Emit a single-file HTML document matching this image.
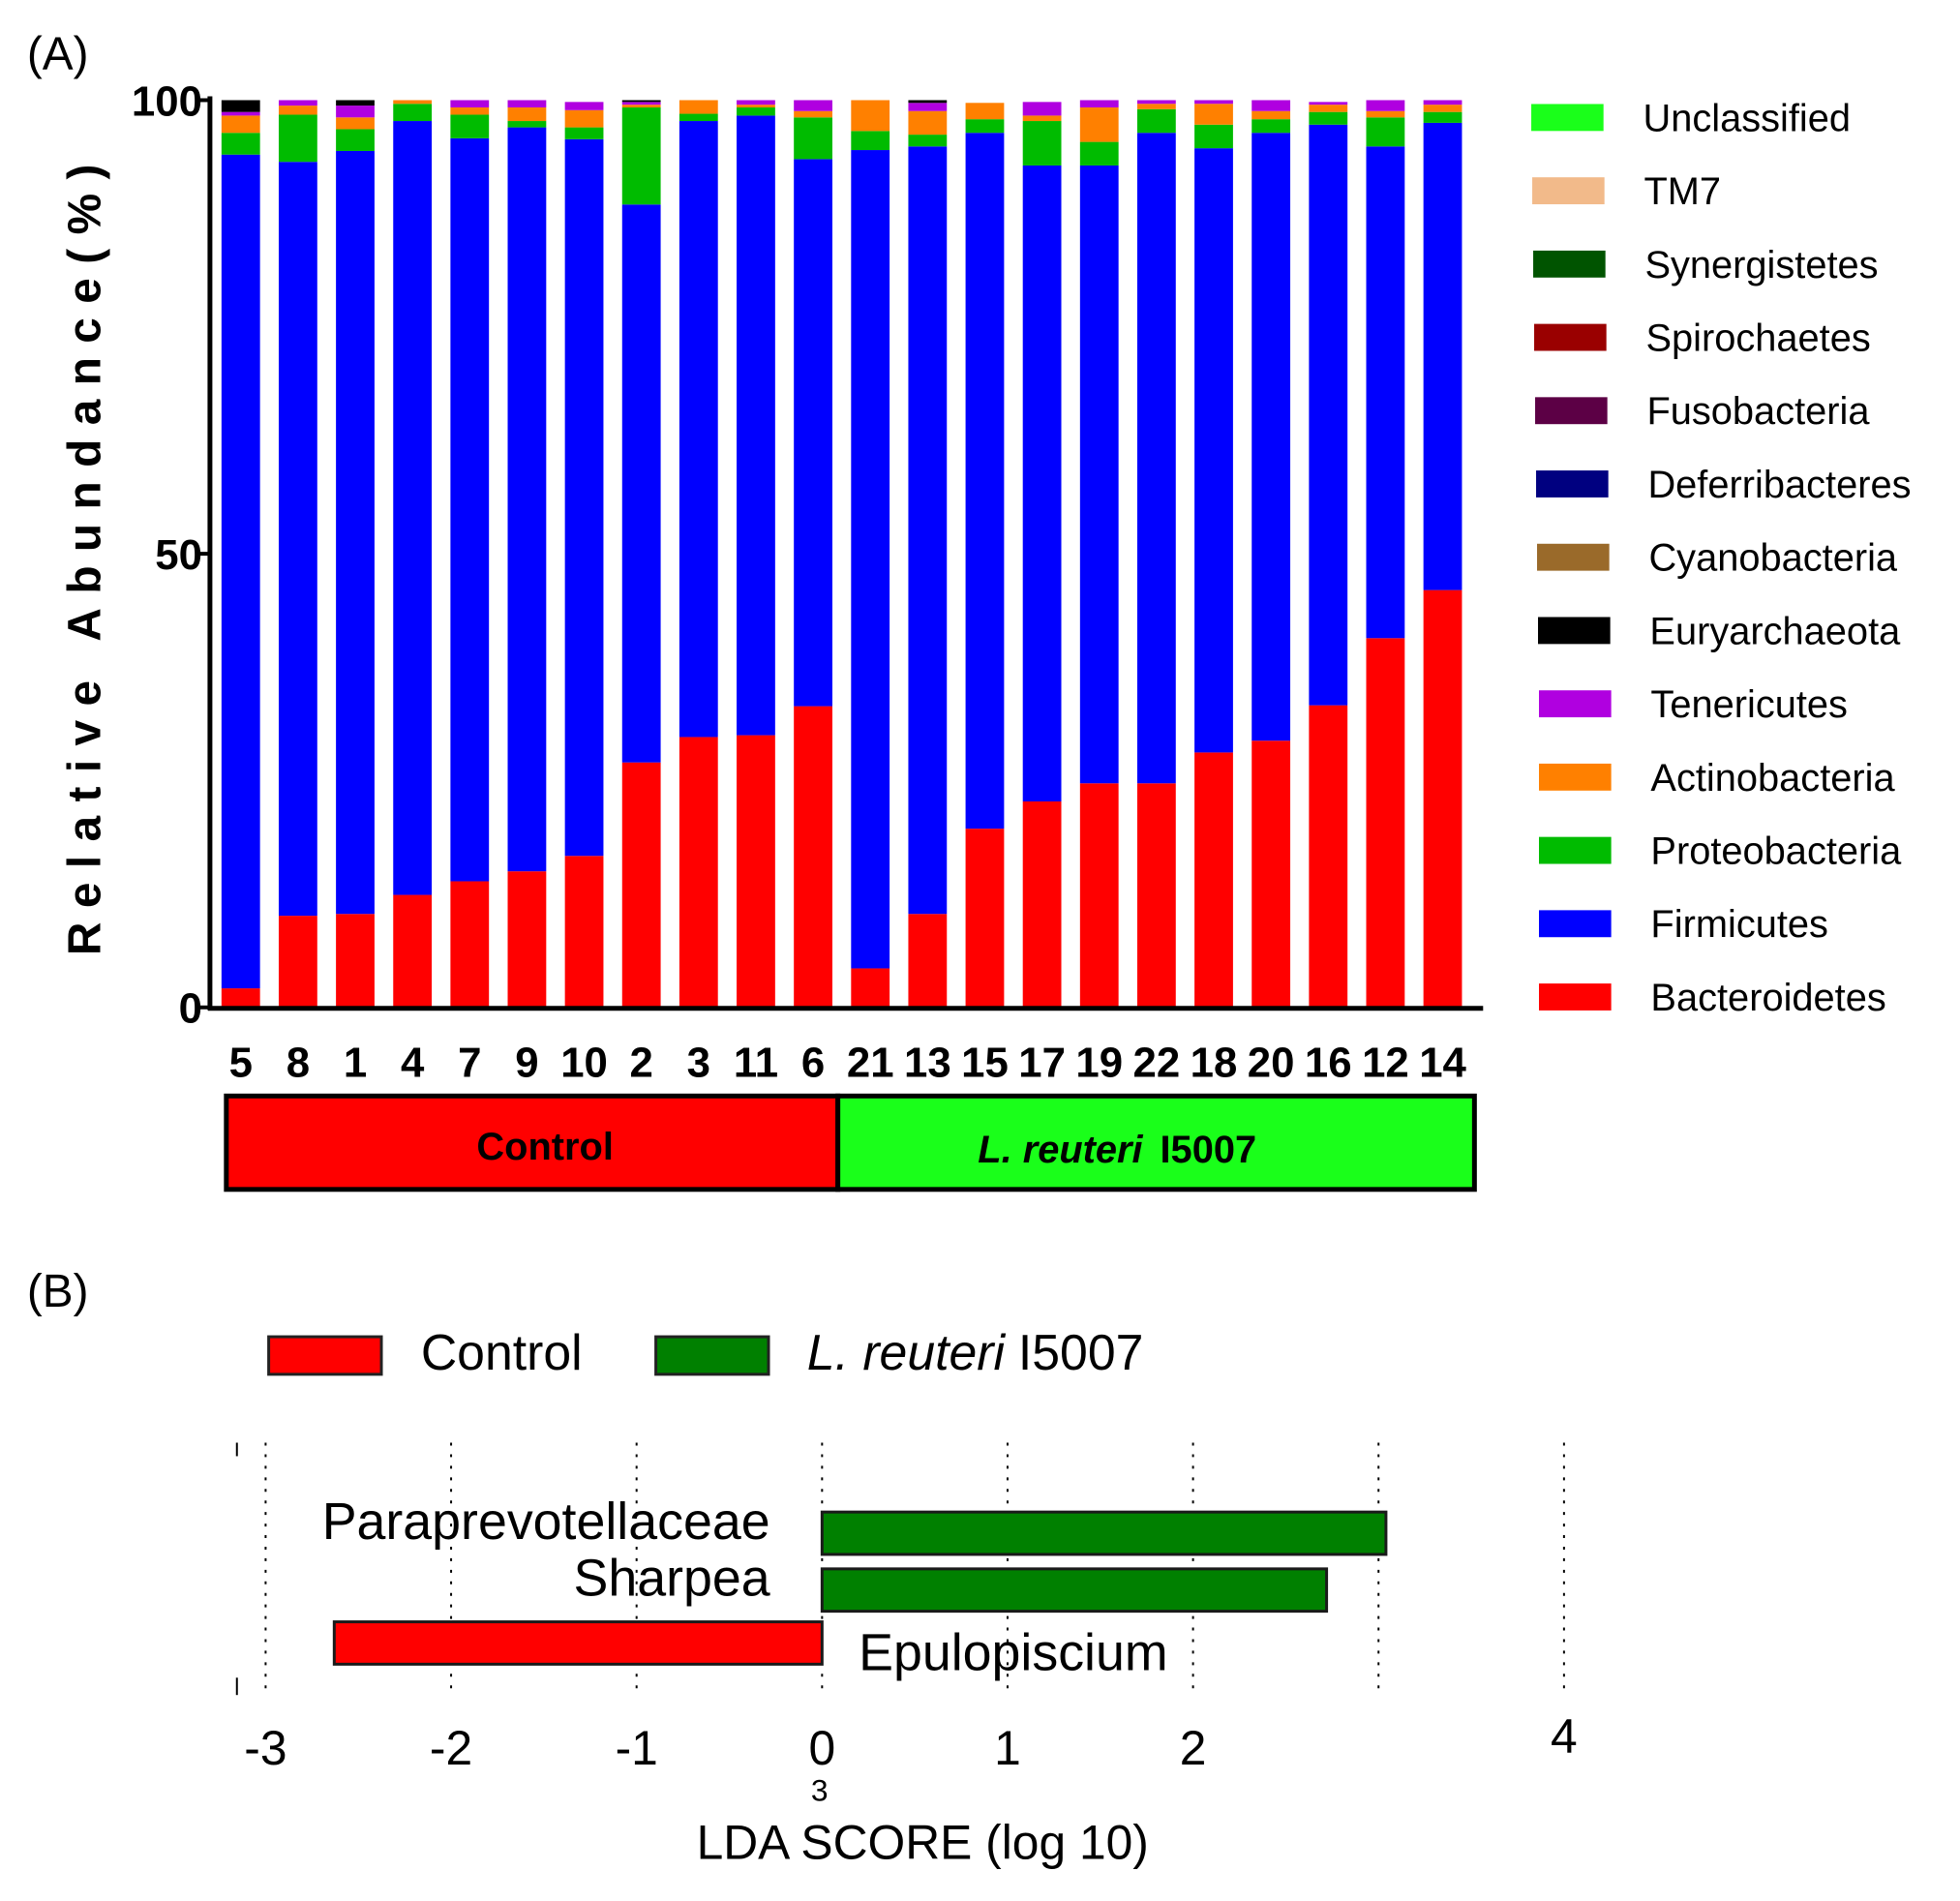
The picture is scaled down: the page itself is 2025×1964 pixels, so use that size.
<!DOCTYPE html>
<html><head><meta charset="utf-8"><style>
html,body{margin:0;padding:0;background:#fff}
svg{display:block;font-family:"Liberation Sans",sans-serif}
</style></head><body>
<svg id="chart" width="2025" height="1964" viewBox="0 0 2025 1964" xmlns="http://www.w3.org/2000/svg">
<g transform="scale(0.995)">
<text x="28" y="72" font-size="48">(A)</text>
<g id="panelA"></g>
<text x="28" y="1357" font-size="48">(B)</text>
<g id="panelB"></g>
</g>
</svg>
<script>
const samples=["5","8","1","4","7","9","10","2","3","11","6","21","13","15","17","19","22","18","20","16","12","14"];
const bacteroidetes=[2.1,10.1,10.3,12.4,13.9,15.0,16.7,27.0,29.8,30.0,33.2,4.3,10.3,19.7,22.7,24.7,24.7,28.1,29.4,33.3,40.7,46.0];
const firmicutes=[91.9,83.1,84.1,85.3,81.9,82.0,79.0,61.5,67.9,68.3,60.3,90.2,84.6,76.7,70.1,68.1,71.7,66.6,67.0,64.0,54.2,51.5];
const proteobacteria=[2.4,5.2,2.4,1.9,2.6,0.7,1.3,10.7,0.8,0.9,4.6,2.1,1.3,1.5,4.9,2.6,2.6,2.6,1.5,1.4,3.2,1.2];
const actinobacteria=[1.9,1.0,1.3,0.4,0.8,1.5,1.9,0.3,1.5,0.3,0.7,3.4,2.6,1.8,0.6,3.8,0.6,2.3,0.9,0.8,0.7,0.8];
const tenericutes=[0.4,0.6,1.3,0,0.8,0.8,0.9,0.3,0,0.5,1.2,0,0.9,0,1.5,0.8,0.4,0.4,1.2,0.3,1.2,0.5];
const euryarchaeota=[1.3,0,0.6,0,0,0,0,0.2,0,0,0,0,0.3,0,0,0,0,0,0,0,0,0];
const yTicks=[0,50,100];
const legendNames=["Unclassified","TM7","Synergistetes","Spirochaetes","Fusobacteria","Deferribacteres","Cyanobacteria","Euryarchaeota","Tenericutes","Actinobacteria","Proteobacteria","Firmicutes","Bacteroidetes"];
const legendColors=["#1aff1a","#f2ba8a","#005400","#9a0000","#5c0045","#000080","#9a6a2a","#000000","#b000e0","#ff8000","#00bb00","#0000ff","#ff0000"];
const ldaTaxa=["Paraprevotellaceae","Sharpea","Epulopiscium"];
const ldaScores=[3.04,2.72,-2.63];
const ldaTicks=[-3,-2,-1,0,1,2,4];
const ldaGrid=[-3,-2,-1,0,1,2,3,4];

const NS="http://www.w3.org/2000/svg";
function mk(parent,tag,attrs,text){const e=document.createElementNS(NS,tag);for(const k in attrs)e.setAttribute(k,attrs[k]);if(text!==undefined)e.textContent=text;parent.appendChild(e);return e;}

// Panel A
const A=document.getElementById('panelA');
const y0=1046,y100=104;
const yS=v=>y0-(y0-y100)*v/100;
const xS=i=>250+i*59.43;
const bw=40;
const series=[bacteroidetes,firmicutes,proteobacteria,actinobacteria,tenericutes,euryarchaeota];
const sColors=["#ff0000","#0000ff","#00bb00","#ff8000","#b000e0","#000000"];
samples.forEach((s,i)=>{
  let cum=0;
  series.forEach((ser,k)=>{
    const v=ser[i]; if(v<=0){return;}
    const r=mk(A,'rect',{x:xS(i)-bw/2,y:yS(cum+v),width:bw,height:yS(cum)-yS(cum+v),fill:sColors[k]});
    
    
    cum+=v;
  });
  const t=mk(A,'text',{x:xS(i),y:1118,'font-size':44,'font-weight':'bold','text-anchor':'middle'},s);
  
  
});
mk(A,'line',{x1:218,y1:100,x2:218,y2:1049,stroke:'#000','stroke-width':5,});
mk(A,'line',{x1:216,y1:1047,x2:1540,y2:1047,stroke:'#000','stroke-width':5,});
yTicks.forEach(v=>{
  const t=mk(A,'text',{x:210,y:yS(v)+16,'font-size':44,'font-weight':'bold','text-anchor':'end'},String(v));
  
  
  mk(A,'line',{x1:206,y1:yS(v),x2:218,y2:yS(v),stroke:'#000','stroke-width':4});
});
mk(A,'text',{x:0,y:0,'font-size':48,'font-weight':'bold','letter-spacing':'14.5',transform:'translate(104,574) rotate(-90)','text-anchor':'middle',},'Relative Abundance(%)');
mk(A,'rect',{x:235,y:1138,width:635,height:97,fill:'#ff0000',stroke:'#000','stroke-width':5,});
mk(A,'rect',{x:870,y:1138,width:661,height:97,fill:'#1aff1a',stroke:'#000','stroke-width':5,});
mk(A,'text',{x:566,y:1204,'font-size':40,'font-weight':'bold','text-anchor':'middle',},'Control');
const gt=mk(A,'text',{x:1160,y:1207,'font-size':40,'font-weight':'bold','text-anchor':'middle',});
mk(gt,'tspan',{'font-style':'italic'},'L. reuteri');mk(gt,'tspan',{dx:18},'I5007');
legendNames.forEach((n,i)=>{
  const cy=122+i*76.1, sx=1590+Math.min(i,8)*1.0;
  const r=mk(A,'rect',{x:sx,y:cy-14,width:75,height:28,fill:legendColors[i]});
  
  
  const t=mk(A,'text',{x:sx+116,y:cy+14,'font-size':40},n);
  
  
});

// Panel B
const B=document.getElementById('panelB');
const bx=v=>853.6+v*192.6;
mk(B,'rect',{x:279,y:1388,width:117,height:39,fill:'#ff0000',stroke:'#222','stroke-width':3,});
mk(B,'text',{x:437,y:1422,'font-size':52,},'Control');
mk(B,'rect',{x:681,y:1388,width:117,height:39,fill:'#008000',stroke:'#222','stroke-width':3,});
const lt=mk(B,'text',{x:838,y:1422,'font-size':52,});
mk(lt,'tspan',{'font-style':'italic'},'L. reuteri');mk(lt,'tspan',{dx:14},'I5007');
ldaGrid.forEach(v=>{
  const l=mk(B,'line',{x1:bx(v),y1:1498,x2:bx(v),y2:1762,stroke:'#000','stroke-width':2,'stroke-dasharray':'3,9'});
  
  
});
mk(B,'line',{x1:246,y1:1498,x2:246,y2:1512,stroke:'#000','stroke-width':2});
mk(B,'line',{x1:246,y1:1742,x2:246,y2:1760,stroke:'#000','stroke-width':2});
const rowY=[1570,1629,1684];
ldaScores.forEach((v,i)=>{
  const x1=Math.min(bx(0),bx(v)),x2=Math.max(bx(0),bx(v));
  const r=mk(B,'rect',{x:x1,y:rowY[i],width:x2-x1,height:44,fill:v>0?'#008000':'#ff0000',stroke:'#1a1a1a','stroke-width':3});
  
  
  const pos=v>0;
  const t=mk(B,'text',{x:pos?bx(0)-54:bx(0)+38,y:rowY[i]+(pos?28:50),'font-size':54,'text-anchor':pos?'end':'start'},ldaTaxa[i]);
  
  
});
ldaTicks.forEach(v=>{
  const t=mk(B,'text',{x:bx(v),y:v===4?1820:1832,'font-size':50,'text-anchor':'middle'},String(v));
  
  
});
mk(B,'text',{x:851,y:1870,'font-size':32,'text-anchor':'middle',},'3');
mk(B,'text',{x:958,y:1930,'font-size':50,'text-anchor':'middle',},'LDA SCORE (log 10)');
</script>
</body></html>
